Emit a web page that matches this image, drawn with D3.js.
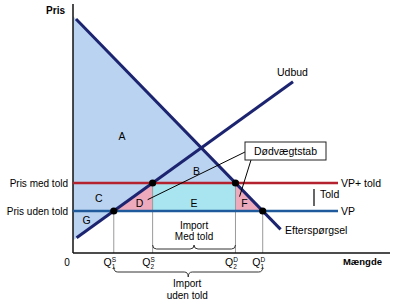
<!DOCTYPE html>
<html>
<head>
<meta charset="utf-8">
<script src="https://cdn.jsdelivr.net/npm/d3@7"></script>
<style>
  body { margin: 0; background: #fff; }
  svg { display: block; font-family: "Liberation Sans", Arial, sans-serif; }
</style>
</head>
<body>
<svg id="chart" width="400" height="305"></svg>
<script>
// prices: world price (VP) and world price + tariff
const priceLevels = [2.1, 3.5];
const priceNames = ["Pris uden told", "Pris med told"];
const priceTags = ["VP", "VP+ told"];
// demand and supply curves as end points [quantity, price]
const demand = [[0.15, 11.7], [10.38, 1.18]];
const supply = [[0.18, 0.76], [11.0, 8.56]];
const qSubs = ["1", "2", "2", "1"];
const qSups = ["S", "S", "D", "D"];

const svg = d3.select("#chart");

const x = d3.scaleLinear().domain([0, 15.85]).range([73, 390]);
const y = d3.scaleLinear().domain([0, 12.45]).range([253, 4]);

const qAt = (l, p) => l[0][0] + (p - l[0][1]) * (l[1][0] - l[0][0]) / (l[1][1] - l[0][1]);
const pAt = (l, q) => l[0][1] + (q - l[0][0]) * (l[1][1] - l[0][1]) / (l[1][0] - l[0][0]);

const [vp, pt] = priceLevels;
const q1s = qAt(supply, vp), q2s = qAt(supply, pt);
const q2d = qAt(demand, pt), q1d = qAt(demand, vp);
const qs = [q1s, q2s, q2d, q1d];
const pd0 = pAt(demand, 0), ps0 = pAt(supply, 0);
// equilibrium
const sD = (demand[1][1] - demand[0][1]) / (demand[1][0] - demand[0][0]);
const sS = (supply[1][1] - supply[0][1]) / (supply[1][0] - supply[0][0]);
const qe = (pd0 - ps0) / (sS - sD);
const pe = ps0 + sS * qe;

const line = d3.line().x((d) => x(d[0])).y((d) => y(d[1]));
const px = (q, p) => [x(q), y(p)];

const regions = [
  { pts: [[0, pd0], [q1d, vp], [0, vp]], fill: "#bad3f1" },
  { pts: [[0, vp], [q1s, vp], [0, ps0]], fill: "#bad3f1" },
  { pts: [[q1s, vp], [q2s, pt], [q2s, vp]], fill: "#eeaabd" },
  { pts: [[q2s, pt], [q2d, pt], [q2d, vp], [q2s, vp]], fill: "#a9e5f0" },
  { pts: [[q2d, pt], [q1d, vp], [q2d, vp]], fill: "#eeaabd" },
];
svg.append("g").selectAll("path").data(regions).join("path")
  .attr("d", (d) => line(d.pts) + "Z")
  .attr("fill", (d) => d.fill);

// grey drop lines
const drops = [[q1s, vp], [q2s, pt], [q2d, pt], [q1d, vp]];
svg.append("g").selectAll("line").data(drops).join("line")
  .attr("x1", (d) => x(d[0])).attr("x2", (d) => x(d[0]))
  .attr("y1", (d) => y(d[1])).attr("y2", y(0))
  .attr("stroke", "#9a9a9a").attr("stroke-width", 1);

// axes
svg.append("line").attr("x1", x(0)).attr("x2", x(0)).attr("y1", y(12.45)).attr("y2", y(0))
  .attr("stroke", "#111").attr("stroke-width", 1.5);
svg.append("line").attr("x1", x(0)).attr("x2", x(15.85)).attr("y1", y(0)).attr("y2", y(0))
  .attr("stroke", "#111").attr("stroke-width", 1.5);

// price lines
const priceColors = ["#1f5b9c", "#b3222e"];
svg.append("g").selectAll("line").data(priceLevels).join("line")
  .attr("x1", x(0)).attr("x2", x(13.25))
  .attr("y1", (d) => y(d)).attr("y2", (d) => y(d))
  .attr("stroke", (d, i) => priceColors[i]).attr("stroke-width", 2.5);

// demand / supply
svg.append("g").selectAll("path").data([demand, supply]).join("path")
  .attr("d", line).attr("fill", "none")
  .attr("stroke", "#1c2470").attr("stroke-width", 3);

// dots
svg.append("g").selectAll("circle").data(drops).join("circle")
  .attr("cx", (d) => x(d[0])).attr("cy", (d) => y(d[1]))
  .attr("r", 3.6).attr("fill", "#000");

// dødvægtstab annotation
const cD = d3.polygonCentroid(regions[2].pts.map((d) => px(d[0], d[1])));
const cF = d3.polygonCentroid(regions[4].pts.map((d) => px(d[0], d[1])));
const box = { x: 245, y: 142, w: 81, h: 18 };
svg.append("line").attr("x1", box.x).attr("y1", box.y + 10).attr("x2", cD[0] + 8).attr("y2", cD[1] - 2)
  .attr("stroke", "#000").attr("stroke-width", 1);
svg.append("line").attr("x1", box.x + 6).attr("y1", box.y + box.h).attr("x2", cF[0] - 5).attr("y2", cF[1] - 5)
  .attr("stroke", "#000").attr("stroke-width", 1);
svg.append("rect").attr("x", box.x).attr("y", box.y).attr("width", box.w).attr("height", box.h)
  .attr("fill", "#fff").attr("stroke", "#222").attr("stroke-width", 1);
svg.append("text").attr("x", box.x + box.w / 2).attr("y", box.y + box.h / 2).attr("dy", "0.35em")
  .attr("text-anchor", "middle").attr("font-size", 10.5).text("Dødvægtstab");

// region letters
const letters = [
  { t: "A", pos: [122, 136] },
  { t: "B", pos: d3.polygonCentroid([px(q2s, pt), px(q2d, pt), px(qe, pe)]) },
  { t: "C", pos: [(x(0) + x(q2s)) / 2 - 14, (y(pt) + y(vp)) / 2 + 1] },
  { t: "D", pos: [cD[0], cD[1] + 2] },
  { t: "E", pos: [(x(q2s) + x(q2d)) / 2, y(vp) - 8] },
  { t: "F", pos: [cF[0], cF[1] + 2] },
  { t: "G", pos: d3.polygonCentroid(regions[1].pts.map((d) => px(d[0], d[1]))) },
];
svg.append("g").selectAll("text").data(letters).join("text")
  .attr("x", (d) => d.pos[0]).attr("y", (d) => d.pos[1]).attr("dy", "0.35em")
  .attr("text-anchor", "middle").attr("font-size", 10.5).text((d) => d.t);

// price labels left and right
svg.append("g").selectAll("text").data(priceLevels).join("text")
  .attr("x", 68).attr("y", (d) => y(d)).attr("dy", "0.35em")
  .attr("text-anchor", "end").attr("font-size", 10).text((d, i) => priceNames[i]);
svg.append("g").selectAll("text").data(priceLevels).join("text")
  .attr("x", x(13.25) + 3).attr("y", (d) => y(d) + 0.5).attr("dy", "0.35em")
  .attr("font-size", 10.5).text((d, i) => priceTags[i]);
// told bracket
svg.append("line").attr("x1", 314).attr("x2", 314).attr("y1", y(pt) + 6).attr("y2", y(vp) - 5)
  .attr("stroke", "#000").attr("stroke-width", 1.2);
svg.append("text").attr("x", 320).attr("y", (y(pt) + y(vp)) / 2 - 3).attr("dy", "0.35em")
  .attr("font-size", 10.5).text("Told");

// curve labels
svg.append("text").attr("x", 277).attr("y", 72).attr("dy", "0.35em").attr("font-size", 10.5).text("Udbud");
svg.append("text").attr("x", 285).attr("y", 230).attr("dy", "0.35em").attr("font-size", 10.5).text("Efterspørgsel");

// axis titles
svg.append("text").attr("x", 65).attr("y", 10).attr("dy", "0.35em").attr("text-anchor", "end")
  .attr("font-size", 10).attr("font-weight", "bold").text("Pris");
svg.append("text").attr("x", 382).attr("y", 262).attr("dy", "0.35em").attr("text-anchor", "end")
  .attr("font-size", 9.5).attr("font-weight", "bold").text("Mængde");
svg.append("text").attr("x", 67).attr("y", 262).attr("dy", "0.35em").attr("text-anchor", "middle")
  .attr("font-size", 10).text("0");

// Q labels
const ql = svg.append("g").selectAll("text").data(qs).join("text")
  .attr("x", (d) => x(d) - 4).attr("y", 262).attr("dy", "0.35em")
  .attr("text-anchor", "middle").attr("font-size", 10.5);
ql.append("tspan").text("Q");
ql.append("tspan").attr("font-size", 6.5).attr("dy", "3").text((d, i) => qSubs[i]);
ql.append("tspan").attr("font-size", 6.5).attr("dy", "-7").attr("dx", "-3.6").text((d, i) => qSups[i]);

// braces
function brace(x1, x2, yb, e, t) {
  const m = (x1 + x2) / 2, r = 4;
  return `M${x1},${yb - e} Q${x1},${yb} ${x1 + r},${yb} L${m - r},${yb} Q${m},${yb} ${m},${yb + t}` +
    ` Q${m},${yb} ${m + r},${yb} L${x2 - r},${yb} Q${x2},${yb} ${x2},${yb - e}`;
}
svg.append("path").attr("d", brace(x(q2s), x(q2d), 249, 4, -4))
  .attr("fill", "none").attr("stroke", "#333").attr("stroke-width", 1);
svg.append("path").attr("d", brace(x(q1s), x(q1d), 272, 5, 5))
  .attr("fill", "none").attr("stroke", "#333").attr("stroke-width", 1);

const imp1 = svg.append("text").attr("text-anchor", "middle").attr("font-size", 10)
  .attr("x", (x(q2s) + x(q2d)) / 2).attr("y", 225).attr("dy", "0.35em");
imp1.append("tspan").text("Import");
imp1.append("tspan").attr("x", (x(q2s) + x(q2d)) / 2).attr("dy", "1.15em").text("Med told");
const imp2 = svg.append("text").attr("text-anchor", "middle").attr("font-size", 10)
  .attr("x", (x(q1s) + x(q1d)) / 2 - 1).attr("y", 283.5).attr("dy", "0.35em");
imp2.append("tspan").text("Import");
imp2.append("tspan").attr("x", (x(q1s) + x(q1d)) / 2 - 1).attr("dy", "1.2em").text("uden told");
</script>
</body>
</html>
